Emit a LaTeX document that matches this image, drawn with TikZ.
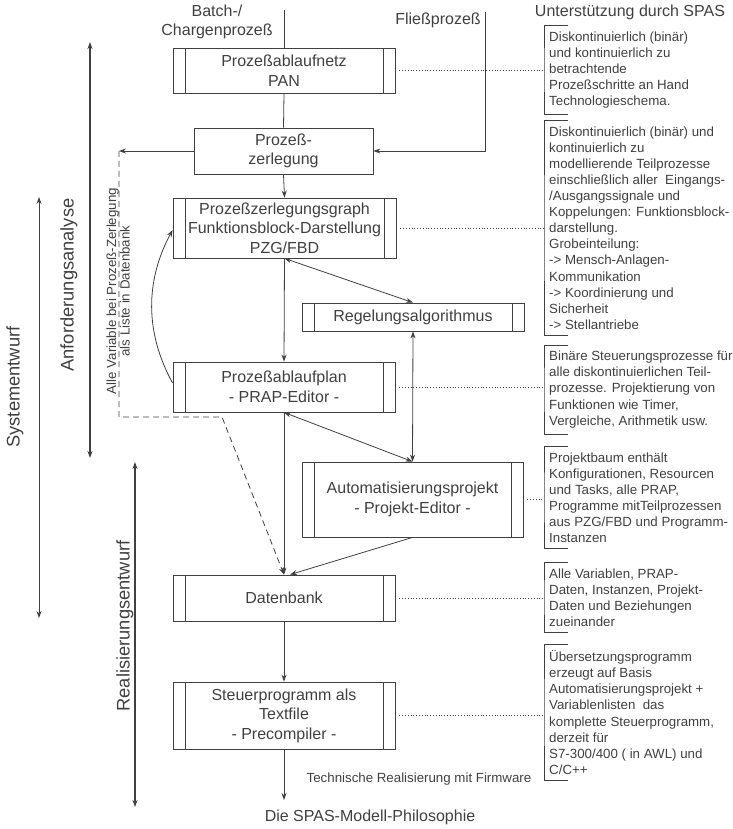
\documentclass[tikz,border=0pt]{standalone}
\usepackage{fontspec}
\setmainfont{Liberation Sans}
\usetikzlibrary{arrows.meta}

\definecolor{inkc}{gray}{0.25}
\newcommand\boxfont{\fontsize{16}{19.5}\selectfont}
\newcommand\notefont{\fontsize{13.3}{16.1}\selectfont}
\newcommand\listfont{\fontsize{13.3}{13.5}\selectfont}
\newcommand\sidefont{\fontsize{18.3}{22}\selectfont}

\tikzset{
  inkline/.style={draw=inkc, line width=0.8pt},
  thickline/.style={draw=inkc, line width=1.3pt},
  dotline/.style={draw=inkc, line width=0.8pt, dotted, shorten <=4pt},
  box/.style={draw=inkc, line width=0.8pt, inner sep=0pt, align=center,
    font=\boxfont, text=inkc, minimum width=222pt},
  prozbox/.style={box, path picture={
    \draw[inkc, line width=0.8pt]
      ([xshift=12pt]path picture bounding box.north west) --
      ([xshift=12pt]path picture bounding box.south west)
      ([xshift=-12pt]path picture bounding box.north east) --
      ([xshift=-12pt]path picture bounding box.south east);}},
  note/.style={anchor=west, align=left, inner xsep=0pt, inner ysep=6pt,
    font=\notefont, text=inkc},
  label/.style={font=\boxfont, text=inkc, align=center, inner sep=0pt},
  sidelabel/.style={font=\sidefont, text=inkc, rotate=90, inner sep=0pt}
}

\begin{document}
\begin{tikzpicture}[x=1pt,y=-1pt,>={Stealth[length=7pt,width=5pt]}]

  \useasboundingbox (0,0) rectangle (732,829);

  % Kaesten in der Mitte
  \node[prozbox, minimum height=45pt] (pan) at (284,70.5)
       {Prozeßablaufnetz\\PAN};
  \node[box, minimum width=179pt, minimum height=46pt] (zerl) at (283.5,151)
       {Prozeß-\\zerlegung};
  \node[prozbox, minimum width=223pt, minimum height=60pt] (pzg) at (284.5,228)
       {Prozeßzerlegungsgraph\\Funktionsblock-Darstellung\\PZG/FBD};
  \node[prozbox, minimum height=28pt] (regel) at (413,317)
       {Regelungsalgorithmus};
  \node[prozbox, minimum height=50pt] (prap) at (284,387)
       {Prozeßablaufplan\\- PRAP-Editor -};
  \node[prozbox, minimum width=221pt, minimum height=75pt] (auto) at (412.5,499.5)
       {Automatisierungsprojekt\\- Projekt-Editor -};
  \node[prozbox, minimum height=46pt] (daten) at (284,598)
       {Datenbank};
  \node[prozbox, minimum height=67pt] (steuer) at (284,715.5)
       {Steuerprogramm als\\Textfile\\- Precompiler -};

  % Eingaenge oben
  \node[label] (batchtext) at (217,22) {Batch-/\\Chargenprozeß};
  \node[label] (fliesstext) at (438,20) {Fließprozeß};
  \coordinate (batch) at (284,10);
  \coordinate (fliess) at (485,12);

  \draw[inkline] (batch) -- (pan.north);
  \draw[inkline] (pan.south) -- (zerl.north);
  \draw[inkline,->] (fliess) |- (zerl.east);
  \draw[inkline,->] (zerl.south) -- (pzg.north);

  % Variablenliste (gestrichelt)
  \coordinate (ecke) at (119,151);
  \coordinate (knickA) at (119,417);
  \coordinate (knickB) at (222,417);
  \draw[inkline,->] (zerl.west) -- (ecke);
  \draw[inkline,dash pattern=on 6pt off 4pt,->]
       (ecke) -- (knickA) -- (knickB) -- (daten.north);
  \node[font=\listfont, text=inkc, rotate=90, align=center, inner sep=0pt]
       (liste) at (118,291)
       {Alle Variable bei Prozeß-Zerlegung\\als Liste in Datenbank};

  % Verbindungen
  \draw[inkline,->] (pzg.south) -- (prap.north);
  \draw[inkline,<->] (pzg.south) -- (regel.north);
  \draw[inkline,<->] (regel.south) -- (auto.north);
  \draw[inkline,<->] (prap.south) -- (auto.north);
  \draw[inkline,->] (prap.south) -- (daten.north);
  \draw[inkline,->] (auto.south) -- ([xshift=6pt]daten.north);
  \draw[inkline,->] ([yshift=4pt]prap.west)
       .. controls (145,333) and (145,281) .. ([yshift=-2pt]pzg.west);
  \draw[inkline,->] (daten.south) -- (steuer.north);

  \coordinate (ende) at (284,800);
  \draw[inkline,->] (steuer.south) -- (ende);
  \node[font=\notefont, text=inkc, inner sep=0pt] (firmware) at (419,779)
       {Technische Realisierung mit Firmware};
  \node[label] (titel) at (370,817) {Die SPAS-Modell-Philosophie};

  % Phasen links
  \coordinate (sysA) at (39,197);
  \coordinate (sysB) at (39,618);
  \coordinate (anfA) at (90,42);
  \coordinate (anfB) at (90,458);
  \coordinate (reaA) at (135,462);
  \coordinate (reaB) at (135,807);
  \draw[inkline,<->] (sysA) -- (sysB);
  \draw[thickline,<->] (anfA) -- (anfB);
  \draw[thickline,<->] (reaA) -- (reaB);
  \node[sidelabel] (systext) at (15,387) {Systementwurf};
  \node[sidelabel] (anftext) at (69,285) {Anforderungsanalyse};
  \node[sidelabel] (reatext) at (125,626) {Realisierungsentwurf};

  % Unterstuetzung durch SPAS
  \node[label] (spas) at (630,12) {Unterstützung durch SPAS};
  \coordinate (brk) at (544,0);

  \node[note] (n1) at (549,70)
       {Diskontinuierlich (binär)\\und kontinuierlich zu\\betrachtende\\%
        Prozeßschritte an Hand\\Technologieschema.};
  \node[note] (n2) at (549,228)
       {Diskontinuierlich (binär) und\\kontinuierlich zu\\%
        modellierende Teilprozesse\\einschließlich aller~ Eingangs-\\%
        /Ausgangssignale und\\Koppelungen: Funktionsblock-\\darstellung.\\%
        Grobeinteilung:\\-> Mensch-Anlagen-\\Kommunikation\\%
        -> Koordinierung und\\Sicherheit\\-> Stellantriebe};
  \node[note] (n3) at (549,389.5)
       {Binäre Steuerungsprozesse für\\alle diskontinuierlichen Teil-\\%
        prozesse. Projektierung von\\Funktionen wie Timer,\\%
        Vergleiche, Arithmetik usw.};
  \node[note] (n4) at (549,497.5)
       {Projektbaum enthält\\Konfigurationen, Resourcen\\%
        und Tasks, alle PRAP,\\Programme mitTeilprozessen\\%
        aus PZG/FBD und Programm-\\Instanzen};
  \node[note] (n5) at (549,597.5)
       {Alle Variablen, PRAP-\\Daten, Instanzen, Projekt-\\%
        Daten und Beziehungen\\zueinander};
  \node[note] (n6) at (549,712.5)
       {Übersetzungsprogramm\\erzeugt auf Basis\\%
        Automatisierungsprojekt +\\Variablenlisten~ das\\%
        komplette Steuerprogramm,\\derzeit für\\%
        S7-300/400 ( in AWL) und\\C/C++};

  \foreach \n in {n1,n2,n3,n4,n5,n6}
    \draw[inkline] ([xshift=19pt]\n.north west) -| (\n.west -| brk)
                   |- ([xshift=19pt]\n.south west);

  \draw[dotline] (pan.east) -- (pan.east -| brk);
  \draw[dotline] (pzg.east) -- (pzg.east -| brk);
  \draw[dotline] (prap.east) -- (prap.east -| brk);
  \draw[dotline] (auto.east) -- (auto.east -| brk);
  \draw[dotline] (daten.east) -- (daten.east -| brk);
  \draw[dotline] (steuer.east) -- (steuer.east -| brk);

\end{tikzpicture}
\end{document}
